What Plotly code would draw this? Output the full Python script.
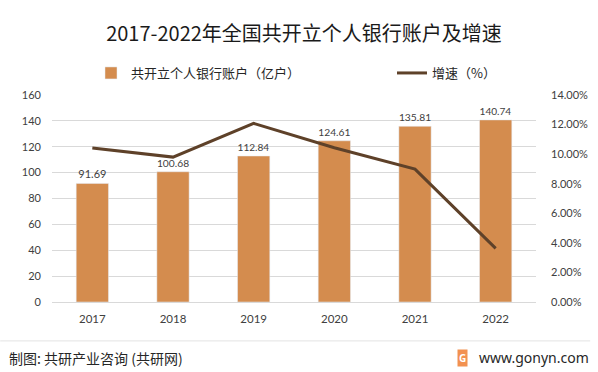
import plotly.graph_objects as go

years = ["2017", "2018", "2019", "2020", "2021", "2022"]
accounts = [91.69, 100.68, 112.84, 124.61, 135.81, 140.74]
growth = [0.1041, 0.0980, 0.1208, 0.1043, 0.0899, 0.0363]
left_ticks = [0, 20, 40, 60, 80, 100, 120, 140, 160]

NUM_FONT = "Lato, 'Noto Sans CJK SC', sans-serif"
CJK_FONT = "'Noto Sans CJK SC', sans-serif"
BAR_C = "#D48C4E"
LINE_C = "#5E4129"
TXT = "#404040"

fig = go.Figure()
fig.add_trace(go.Bar(
    x=years, y=accounts, name="共开立个人银行账户（亿户）",
    marker_color=BAR_C, legend="legend",
    text=[f"{v:.2f}" for v in accounts], textposition="outside",
    textfont=dict(size=11, color=TXT, family=NUM_FONT), cliponaxis=False,
))
fig.add_trace(go.Scatter(
    x=years, y=growth, name="增速（%）", yaxis="y2", mode="lines", legend="legend2",
    line=dict(color=LINE_C, width=3),
))

legend_common = dict(orientation="h", y=(302 - 73) / 207, xanchor="left", yanchor="middle",
                     font=dict(size=13, color="#262626", family=CJK_FONT),
                     bgcolor="rgba(0,0,0,0)")

fig.update_layout(
    width=598, height=372,
    margin=dict(l=52, r=62, t=95, b=70, autoexpand=False),
    plot_bgcolor="white", paper_bgcolor="white",
    font=dict(family=NUM_FONT, size=11, color=TXT),
    bargap=0.6,
    showlegend=True,
    title=dict(text="2017-2022年全国共开立个人银行账户及增速", x=304 / 598, xanchor="center",
               y=1 - 34 / 372, yanchor="middle", yref="container",
               font=dict(size=20, color="#1A1A1A", family=CJK_FONT)),
    legend=dict(x=(131 - 40 - 52) / 484, **legend_common),
    legend2=dict(x=(432 - 40 - 52) / 484, **legend_common),
    xaxis=dict(showgrid=False, showline=True, linecolor="#D9D9D9", ticks="",
               tickfont=dict(size=11.5, color=TXT), ticklabelstandoff=6),
    yaxis=dict(range=[0, 160], tickvals=left_ticks, showgrid=True, gridcolor="#D9D9D9",
               zeroline=False, ticks="", ticklabelstandoff=10,
               tickfont=dict(size=11, color=TXT)),
    yaxis2=dict(range=[0, 0.14], dtick=0.02, tickformat=".2%", overlaying="y", side="right",
                showgrid=False, zeroline=False, ticks="", ticklabelstandoff=14,
                tickfont=dict(size=11, color=TXT)),
    shapes=[dict(type="line", xref="paper", yref="paper", x0=-0.107, x1=1.112,
                 y0=-0.188, y1=-0.188, line=dict(color="#E3E3E3", width=1))],
    annotations=[
        dict(text="制图: 共研产业咨询 (共研网)", xref="paper", yref="paper", x=-0.093, y=-0.2705,
             xanchor="left", yanchor="middle", showarrow=False,
             font=dict(size=14, color="#262626", family=CJK_FONT)),
        dict(text="www.gonyn.com", xref="paper", yref="paper", x=1.114, y=-0.2705,
             xanchor="right", yanchor="middle", showarrow=False,
             font=dict(size=14, color="#262626", family="'Noto Sans', sans-serif")),
        dict(text="<b>G</b>", xref="paper", yref="paper", x=0.849, y=-0.2705,
             xanchor="center", yanchor="middle", showarrow=False, bgcolor="#F29150",
             font=dict(size=10, color="white", family="'Noto Sans', sans-serif"), borderpad=1),
    ],
)

fig.write_html("out.html", config={"displayModeBar": False},
               post_script="document.body.style.margin='0';")
